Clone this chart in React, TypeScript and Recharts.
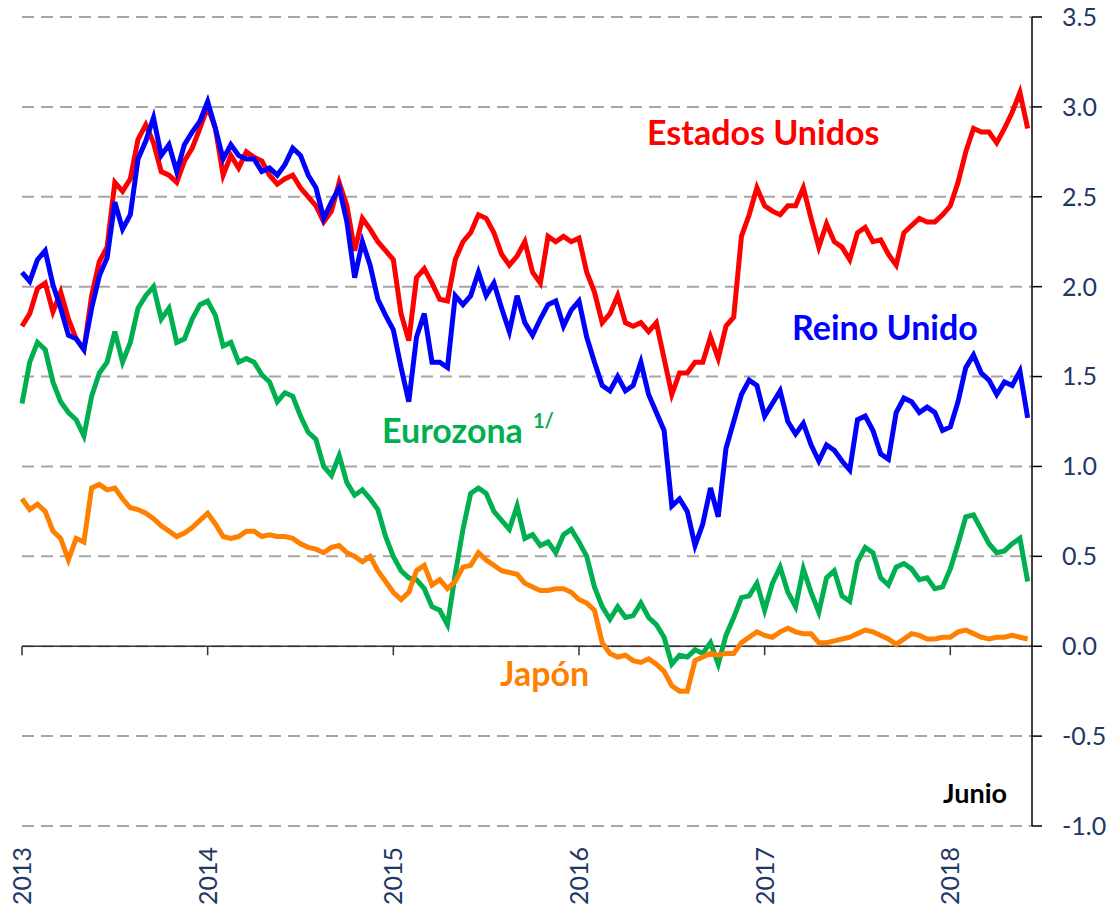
import React from 'react';
import { LineChart, Line, XAxis, YAxis, CartesianGrid, ReferenceLine } from 'recharts';

// 10-year government bond yields, half-monthly readings, Jan 2013 - Jun 2018
const usYields = [
  1.78, 1.85, 1.99, 2.02, 1.86, 1.97, 1.82, 1.71, 1.65, 1.95, 2.14, 2.22, 2.58, 2.53, 2.60, 2.82, 2.90, 2.80, 2.64, 2.62, 2.58, 2.70, 2.77, 2.88,
  3.00, 2.88, 2.62, 2.73, 2.66, 2.75, 2.72, 2.70, 2.62, 2.57, 2.60, 2.62, 2.55, 2.50, 2.45, 2.36, 2.42, 2.58, 2.45, 2.20, 2.38, 2.32, 2.25, 2.20,
  2.15, 1.85, 1.70, 2.05, 2.10, 2.02, 1.93, 1.92, 2.15, 2.25, 2.30, 2.40, 2.38, 2.30, 2.18, 2.12, 2.17, 2.25, 2.08, 2.02, 2.28, 2.25, 2.28, 2.25,
  2.27, 2.08, 1.97, 1.80, 1.85, 1.95, 1.80, 1.78, 1.80, 1.75, 1.80, 1.60, 1.40, 1.52, 1.52, 1.58, 1.58, 1.72, 1.60, 1.78, 1.83, 2.28, 2.40, 2.55,
  2.45, 2.42, 2.40, 2.45, 2.45, 2.55, 2.38, 2.22, 2.35, 2.25, 2.22, 2.15, 2.30, 2.33, 2.25, 2.26, 2.18, 2.12, 2.30, 2.34, 2.38, 2.36, 2.36, 2.40,
  2.45, 2.58, 2.75, 2.88, 2.86, 2.86, 2.80, 2.88, 2.97, 3.08, 2.88,
];

const ukYields = [
  2.08, 2.03, 2.15, 2.20, 2.01, 1.88, 1.73, 1.71, 1.65, 1.88, 2.06, 2.16, 2.47, 2.32, 2.40, 2.71, 2.81, 2.94, 2.73, 2.79, 2.64, 2.79, 2.86, 2.92,
  3.03, 2.88, 2.71, 2.79, 2.73, 2.71, 2.71, 2.64, 2.66, 2.62, 2.68, 2.77, 2.73, 2.62, 2.55, 2.38, 2.47, 2.55, 2.36, 2.05, 2.25, 2.12, 1.93, 1.84,
  1.76, 1.55, 1.36, 1.72, 1.85, 1.58, 1.58, 1.55, 1.95, 1.90, 1.95, 2.08, 1.95, 2.02, 1.88, 1.75, 1.95, 1.80, 1.73, 1.82, 1.90, 1.92, 1.78, 1.87,
  1.92, 1.72, 1.58, 1.45, 1.42, 1.50, 1.42, 1.45, 1.58, 1.40, 1.30, 1.20, 0.78, 0.82, 0.75, 0.56, 0.68, 0.88, 0.72, 1.10, 1.25, 1.40, 1.48, 1.45,
  1.28, 1.35, 1.42, 1.25, 1.18, 1.24, 1.12, 1.03, 1.12, 1.09, 1.03, 0.98, 1.26, 1.28, 1.20, 1.07, 1.04, 1.30, 1.38, 1.36, 1.30, 1.33, 1.30, 1.20,
  1.22, 1.36, 1.55, 1.62, 1.52, 1.48, 1.40, 1.47, 1.45, 1.53, 1.27,
];

const euroYields = [
  1.35, 1.58, 1.69, 1.65, 1.47, 1.36, 1.30, 1.26, 1.17, 1.39, 1.52, 1.58, 1.75, 1.58, 1.69, 1.88, 1.95, 2.00, 1.82, 1.88, 1.69, 1.71, 1.82, 1.90,
  1.92, 1.84, 1.67, 1.69, 1.58, 1.60, 1.58, 1.51, 1.47, 1.36, 1.41, 1.39, 1.28, 1.19, 1.15, 1.00, 0.95, 1.06, 0.91, 0.84, 0.87, 0.82, 0.76, 0.61,
  0.50, 0.42, 0.38, 0.37, 0.32, 0.22, 0.20, 0.12, 0.40, 0.65, 0.85, 0.88, 0.85, 0.75, 0.70, 0.65, 0.78, 0.60, 0.62, 0.56, 0.58, 0.52, 0.62, 0.65,
  0.58, 0.50, 0.33, 0.22, 0.15, 0.22, 0.16, 0.17, 0.24, 0.16, 0.12, 0.05, -0.10, -0.05, -0.06, -0.02, -0.04, 0.02, -0.10, 0.06, 0.16, 0.27, 0.28, 0.35,
  0.20, 0.35, 0.44, 0.30, 0.22, 0.43, 0.30, 0.19, 0.38, 0.42, 0.28, 0.25, 0.47, 0.55, 0.52, 0.38, 0.34, 0.44, 0.46, 0.43, 0.37, 0.38, 0.32, 0.33,
  0.43, 0.57, 0.72, 0.73, 0.65, 0.57, 0.52, 0.53, 0.57, 0.60, 0.36,
];

const japanYields = [
  0.82, 0.76, 0.79, 0.75, 0.64, 0.60, 0.48, 0.60, 0.58, 0.88, 0.90, 0.87, 0.88, 0.82, 0.77, 0.76, 0.74, 0.71, 0.67, 0.64, 0.61, 0.63, 0.66, 0.70,
  0.74, 0.68, 0.61, 0.60, 0.61, 0.64, 0.64, 0.61, 0.62, 0.61, 0.61, 0.60, 0.57, 0.55, 0.54, 0.52, 0.55, 0.56, 0.52, 0.50, 0.47, 0.50, 0.42, 0.36,
  0.30, 0.26, 0.30, 0.42, 0.45, 0.34, 0.37, 0.32, 0.36, 0.44, 0.45, 0.52, 0.48, 0.45, 0.42, 0.41, 0.40, 0.35, 0.33, 0.31, 0.31, 0.32, 0.32, 0.30,
  0.26, 0.24, 0.20, 0.02, -0.04, -0.06, -0.05, -0.08, -0.09, -0.07, -0.10, -0.14, -0.22, -0.25, -0.25, -0.08, -0.06, -0.04, -0.05, -0.04, -0.04, 0.02, 0.05, 0.08,
  0.06, 0.05, 0.08, 0.10, 0.08, 0.07, 0.07, 0.02, 0.02, 0.03, 0.04, 0.05, 0.07, 0.09, 0.08, 0.06, 0.04, 0.01, 0.04, 0.07, 0.06, 0.04, 0.04, 0.05,
  0.05, 0.08, 0.09, 0.07, 0.05, 0.04, 0.05, 0.05, 0.06, 0.05, 0.04,
];

const yearTicks = [2013, 2014, 2015, 2016, 2017, 2018];
const yTicks = [-1, -0.5, 0, 0.5, 1, 1.5, 2, 2.5, 3, 3.5];

const data = usYields.map((us, i) => ({
  t: 2013 + i / 24,
  us,
  uk: ukYields[i],
  euro: euroYields[i],
  japan: japanYields[i],
}));

const FONT = 'Lato, "Open Sans", sans-serif';
const TICK_COLOR = '#1F3864';

function YearTick({ x, y, payload }: any) {
  const ty = y + 21;
  return (
    <text
      x={x}
      y={ty}
      transform={`rotate(-90, ${x}, ${ty})`}
      textAnchor="end"
      dy="0.36em"
      fill={TICK_COLOR}
      fontSize={25}
      fontFamily={FONT}
    >
      {payload.value}
    </text>
  );
}

export default function App() {
  return (
    <div style={{ position: 'relative', width: 1117, height: 911, background: '#fff' }}>
      <style>{'body { margin: 0; }'}</style>
      <LineChart width={1117} height={911} data={data} margin={{ top: 17, right: 5, left: 22, bottom: 0 }}>
        <CartesianGrid horizontal vertical={false} stroke="#A6A6A6" strokeWidth={2} strokeDasharray="12 7" />
        <XAxis
          dataKey="t"
          type="number"
          domain={[2013, 2018.44]}
          ticks={yearTicks}
          interval={0}
          axisLine={false}
          tickLine={false}
          tickSize={0}
          tickMargin={0}
          height={85}
          tick={<YearTick />}
        />
        <YAxis
          orientation="right"
          domain={[-1, 3.5]}
          ticks={yTicks}
          interval={0}
          width={80}
          axisLine={{ stroke: '#000', strokeWidth: 1.5 }}
          tickLine={{ stroke: '#000', strokeWidth: 1.5 }}
          tickSize={10}
          tickMargin={20}
          tickFormatter={(v: number) => v.toFixed(1)}
          tick={{ fill: TICK_COLOR, fontSize: 25, fontFamily: FONT }}
        />
        <ReferenceLine y={0} stroke="#333" strokeWidth={1.5} />
        {yearTicks.map((yr) => (
          <ReferenceLine
            key={yr}
            segment={[{ x: yr, y: 0 }, { x: yr, y: -0.05 }]}
            stroke="#333"
            strokeWidth={1.5}
          />
        ))}
        <Line type="linear" dataKey="us" stroke="#FF0000" strokeWidth={5} dot={false} isAnimationActive={false} />
        <Line type="linear" dataKey="uk" stroke="#0000FF" strokeWidth={5} dot={false} isAnimationActive={false} />
        <Line type="linear" dataKey="euro" stroke="#00B050" strokeWidth={5} dot={false} isAnimationActive={false} />
        <Line type="linear" dataKey="japan" stroke="#FF7F00" strokeWidth={5} dot={false} isAnimationActive={false} />
      </LineChart>
      <svg
        width={1117}
        height={911}
        style={{ position: 'absolute', left: 0, top: 0, pointerEvents: 'none' }}
        fontFamily={FONT}
        fontWeight="bold"
      >
        <text x={647} y={145} fill="#FF0000" fontSize={34}>Estados Unidos</text>
        <text x={792} y={340} fill="#0000FF" fontSize={34}>Reino Unido</text>
        <text x={382} y={443} fill="#00B050" fontSize={34}>Eurozona</text>
        <text x={533} y={428} fill="#00B050" fontSize={20}>1/</text>
        <text x={500} y={686} fill="#FF7F00" fontSize={34}>Japón</text>
        <text x={943} y={803} fill="#000" fontSize={27}>Junio</text>
      </svg>
    </div>
  );
}
